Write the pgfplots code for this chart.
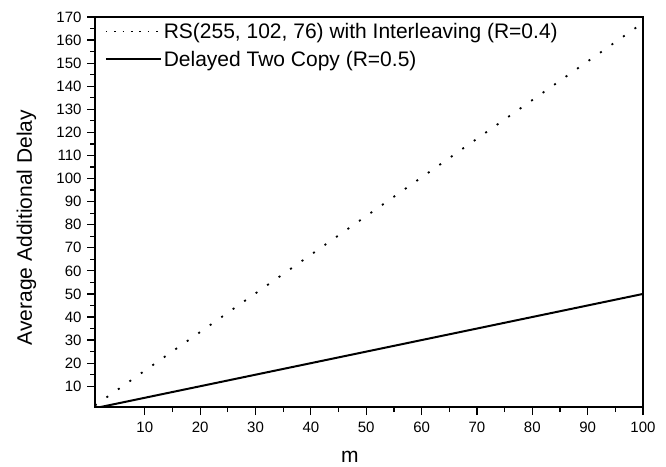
\documentclass[border=0pt]{standalone}
\usepackage{pgfplots}
\pgfplotsset{compat=1.18}
\usepackage{fontspec}
\setmainfont{Liberation Sans}
\begin{document}
\begin{tikzpicture}
\begin{axis}[
  scale only axis,
  width=548pt, height=390pt,
  xmin=1, xmax=100, ymin=1, ymax=170,
  xtick={10,20,...,100}, ytick={10,20,...,170},
  minor x tick num=1, minor y tick num=1,
  tick align=outside, xtick pos=left, ytick pos=left,
  major tick length=8pt, minor tick length=5pt,
  every tick/.style={black, line width=1.2pt},
  axis line style={line width=1.4pt},
  /pgf/number format/assume math mode=true,
  tick label style={font=\fontsize{15}{17}\selectfont},
  xticklabel style={yshift=-3pt},
  yticklabel style={xshift=-2pt},
  xlabel={m}, ylabel={Average Additional Delay},
  xlabel style={font=\fontsize{21}{24}\selectfont, at={(axis description cs:0.465,-0.141)}, anchor=base},
  ylabel style={font=\fontsize{21}{24}\selectfont, at={(axis description cs:-0.125,0.46)}, anchor=center},
  legend style={draw=none, fill=none, at={(0.012,0.995)}, anchor=north west,
    font=\fontsize{21}{24}\selectfont, row sep=7pt},
  legend cell align=left,
]
\addplot[black, line width=1.8pt, dash pattern=on 2pt off 12pt,
  legend image code/.code={\draw[black, line width=1.6pt, dash pattern=on 1.6pt off 6.8pt] (0pt,0pt) -- (52pt,0pt);}] coordinates {
(1,1.68) (10,16.75) (20,33.5) (30,50.25) (40,67) (50,83.75) (60,100.5) (70,117.25) (80,134) (90,150.75) (100,167.5)};
\addlegendentry{RS(255, 102, 76) with Interleaving (R=0.4)}
\addplot[black, line width=2pt,
  legend image code/.code={\draw[black, line width=2pt] (0pt,0pt) -- (55pt,0pt);}] coordinates {
(1,0.5) (10,5) (20,10) (30,15) (40,20) (50,25) (60,30) (70,35) (80,40) (90,45) (100,50)};
\addlegendentry{Delayed Two Copy (R=0.5)}
\end{axis}
\path ([shift={(-95pt,-59pt)}]current axis.south west) rectangle ([shift={(23pt,17pt)}]current axis.north east);
\end{tikzpicture}
\end{document}
